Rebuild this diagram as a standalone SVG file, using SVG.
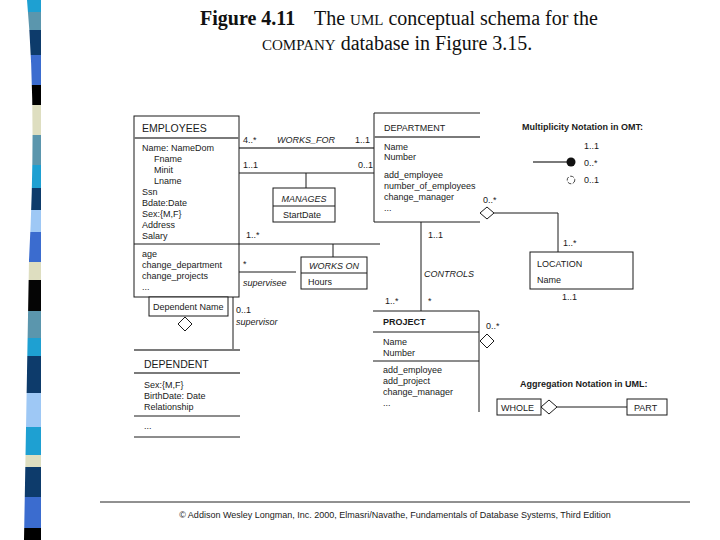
<svg xmlns="http://www.w3.org/2000/svg" width="720" height="540" viewBox="0 0 720 540">
<style>
.t{font-family:"Liberation Sans",Arial,sans-serif;font-size:9px;fill:#1a1a1a}
.h{font-size:10.5px}
.i{font-style:italic}
.b{font-weight:bold}
.ln{stroke:#1a1a1a;stroke-width:1;fill:none}
.gl{stroke:#7a7a7a;stroke-width:2;fill:none}
.bx{fill:#fff;stroke:#1a1a1a;stroke-width:1}
.dm{fill:#fff;stroke:#1a1a1a;stroke-width:1}
.ti{font-family:"Liberation Serif","Times New Roman",serif;font-size:20px;fill:#111}
</style>
<defs>
<clipPath id="band"><path d="M27,0 Q37,110 29,260 L24,540 L41,540 L41,0 Z"/></clipPath>
</defs>
<rect width="720" height="540" fill="#fff"/>
<g id="stripe" clip-path="url(#band)">
<rect x="0" y="0" width="45" height="12" fill="#1ea0d2"/>
<rect x="0" y="12" width="45" height="18" fill="#5b96ad"/>
<rect x="0" y="30" width="45" height="25" fill="#0d3b6b"/>
<rect x="0" y="55" width="45" height="30" fill="#3b6ccf"/>
<rect x="0" y="85" width="45" height="20" fill="#000"/>
<rect x="0" y="105" width="45" height="30" fill="#dedec0"/>
<rect x="0" y="135" width="45" height="30" fill="#5b96ad"/>
<rect x="0" y="165" width="45" height="23" fill="#1ea0d2"/>
<rect x="0" y="188" width="45" height="22" fill="#0d3b6b"/>
<rect x="0" y="210" width="45" height="22" fill="#9ec8f5"/>
<rect x="0" y="232" width="45" height="30" fill="#3b6ccf"/>
<rect x="0" y="262" width="45" height="18" fill="#dedec0"/>
<rect x="0" y="280" width="45" height="31" fill="#050505"/>
<rect x="0" y="311" width="45" height="27" fill="#5b96ad"/>
<rect x="0" y="338" width="45" height="18" fill="#1ea0d2"/>
<rect x="0" y="356" width="45" height="37" fill="#0d3b6b"/>
<rect x="0" y="393" width="45" height="34" fill="#9ec8f5"/>
<rect x="0" y="427" width="45" height="28" fill="#1ea0d2"/>
<rect x="0" y="455" width="45" height="12" fill="#dedec0"/>
<rect x="0" y="467" width="45" height="30" fill="#0d3b6b"/>
<rect x="0" y="497" width="45" height="31" fill="#3b6ccf"/>
<rect x="0" y="528" width="45" height="12" fill="#000"/>
</g>
<g id="title">
<text class="ti" x="200" y="25" font-weight="bold">Figure 4.11</text>
<text class="ti" x="314" y="25">The <tspan font-size="15">UML</tspan> conceptual schema for the</text>
<text class="ti" x="262" y="50"><tspan font-size="15">COMPANY</tspan> database in Figure 3.15.</text>
</g>
<g id="connectors">
<line class="gl" x1="239" y1="148" x2="374" y2="148"/>
<line class="ln" x1="239" y1="173" x2="374" y2="173"/>
<line class="ln" x1="306" y1="173" x2="306" y2="188"/>
<line class="ln" x1="239" y1="244" x2="380" y2="244"/>
<line class="ln" x1="333" y1="244" x2="333" y2="257"/>
<line class="ln" x1="239" y1="272" x2="296" y2="272"/>
<line class="ln" x1="233" y1="297" x2="233" y2="350"/>
<line class="ln" x1="421" y1="222" x2="421" y2="311"/>
<polyline class="ln" points="494,213 558,213 558,252"/>
<text class="t" x="243" y="143">4..*</text>
<text class="t i" x="277" y="143">WORKS_FOR</text>
<text class="t" x="355" y="143">1..1</text>
<text class="t" x="243" y="168">1..1</text>
<text class="t" x="358" y="168">0..1</text>
<text class="t" x="246" y="238">1..*</text>
<text class="t" x="243" y="267">*</text>
<text class="t i" x="243" y="286">supervisee</text>
<text class="t" x="236" y="313">0..1</text>
<text class="t i" x="236" y="325">supervisor</text>
<text class="t" x="428" y="238">1..1</text>
<text class="t i" x="424" y="277">CONTROLS</text>
<text class="t" x="428" y="304">*</text>
<text class="t" x="385" y="304">1..*</text>
<text class="t" x="483" y="203">0..*</text>
<text class="t" x="563" y="246">1..*</text>
<text class="t" x="562" y="300">1..1</text>
<text class="t" x="486" y="329">0..*</text>
</g>
<g id="employees">
<rect class="bx" x="134" y="116" width="105" height="181"/>
<line class="gl" x1="134" y1="138" x2="239" y2="138"/>
<line class="ln" x1="134" y1="244" x2="239" y2="244"/>
<text class="t h" x="142" y="132">EMPLOYEES</text>
<text class="t" x="142" y="151">Name: NameDom</text>
<text class="t" x="154" y="162">Fname</text>
<text class="t" x="154" y="173">Minit</text>
<text class="t" x="154" y="184">Lname</text>
<text class="t" x="142" y="195">Ssn</text>
<text class="t" x="142" y="206">Bdate:Date</text>
<text class="t" x="142" y="217">Sex:{M,F}</text>
<text class="t" x="142" y="228">Address</text>
<text class="t" x="142" y="239">Salary</text>
<text class="t" x="142" y="257">age</text>
<text class="t" x="142" y="268">change_department</text>
<text class="t" x="142" y="279">change_projects</text>
<text class="t" x="142" y="290">...</text>
</g>
<g id="dependent-name">
<rect class="bx" x="149" y="297" width="79" height="19"/>
<text class="t" x="153" y="310">Dependent Name</text>
<polygon class="dm" points="185,317 192,324 185,331 178,324"/>
</g>
<g id="dependent">
<line class="gl" x1="134" y1="350" x2="240" y2="350"/>
<line class="gl" x1="134" y1="373" x2="240" y2="373"/>
<line class="ln" x1="134" y1="416" x2="240" y2="416" stroke="#666"/>
<line class="ln" x1="134" y1="437" x2="240" y2="437" stroke="#666"/>
<text class="t h" x="144" y="368">DEPENDENT</text>
<text class="t" x="144" y="388">Sex:{M,F}</text>
<text class="t" x="144" y="399">BirthDate: Date</text>
<text class="t" x="144" y="410">Relationship</text>
<text class="t" x="144" y="429">...</text>
</g>
<g id="manages">
<rect class="bx" x="273" y="188" width="62" height="34"/>
<line class="ln" x1="273" y1="206" x2="335" y2="206"/>
<text class="t i" x="304" y="202" text-anchor="middle">MANAGES</text>
<text class="t" x="283" y="218">StartDate</text>
</g>
<g id="works-on">
<rect class="bx" x="301" y="257" width="66" height="32"/>
<line class="ln" x1="301" y1="273" x2="367" y2="273"/>
<text class="t i" x="309" y="269">WORKS ON</text>
<text class="t" x="308" y="285">Hours</text>
</g>
<g id="department">
<polyline class="ln" points="480,113 374,113 374,222 480,222"/>
<line class="gl" x1="374" y1="137" x2="480" y2="137"/>
<text class="t" x="384" y="131" font-size="10">DEPARTMENT</text>
<text class="t" x="384" y="150">Name</text>
<text class="t" x="384" y="160">Number</text>
<text class="t" x="384" y="178">add_employee</text>
<text class="t" x="384" y="189">number_of_employees</text>
<text class="t" x="384" y="200">change_manager</text>
<text class="t" x="384" y="211">...</text>
<polygon class="dm" points="480,213 487,207 494,213 487,219"/>
</g>
<g id="location">
<rect class="bx" x="530" y="252" width="103" height="37"/>
<text class="t" x="537" y="267" font-size="10">LOCATION</text>
<text class="t" x="537" y="283">Name</text>
</g>
<g id="project">
<polyline class="ln" points="373,311 479,311 479,412"/>
<line class="ln" x1="373" y1="332" x2="479" y2="332"/>
<line class="ln" x1="373" y1="361" x2="479" y2="361"/>
<text class="t b" x="383" y="325" font-size="10.5">PROJECT</text>
<text class="t" x="383" y="345">Name</text>
<text class="t" x="383" y="356">Number</text>
<text class="t" x="383" y="373">add_employee</text>
<text class="t" x="383" y="384">add_project</text>
<text class="t" x="383" y="395">change_manager</text>
<text class="t" x="383" y="406">...</text>
<polygon class="dm" points="480,341 487,334 494,341 487,348"/>
</g>
<g id="omt-legend">
<text class="t b" x="522" y="130" font-size="8.5">Multiplicity Notation in OMT:</text>
<text class="t" x="584" y="149">1..1</text>
<line class="gl" x1="533" y1="162" x2="567" y2="162" stroke-width="1.5"/>
<circle cx="571" cy="162" r="4.5" fill="#111"/>
<text class="t" x="584" y="166">0..*</text>
<circle cx="571" cy="180" r="3.8" fill="none" stroke="#333" stroke-width="0.9" stroke-dasharray="4 1.5"/>
<text class="t" x="584" y="183">0..1</text>
</g>
<g id="uml-legend">
<text class="t b" x="520" y="387" font-size="8.5">Aggregation Notation in UML:</text>
<rect class="bx" x="497" y="399" width="44" height="16"/>
<text class="t" x="501" y="411" font-size="10">WHOLE</text>
<polygon class="dm" points="541,407 549,400 557,407 549,414"/>
<line class="ln" x1="557" y1="407" x2="627" y2="407"/>
<rect class="bx" x="627" y="399" width="40" height="16"/>
<text class="t" x="634" y="411">PART</text>
</g>
<g id="footer">
<line x1="100" y1="502" x2="690" y2="502" stroke="#222" stroke-width="1"/>
<text class="t" x="395" y="518" font-size="8" text-anchor="middle">© Addison Wesley Longman, Inc. 2000, Elmasri/Navathe, Fundamentals of Database Systems, Third Edition</text>
</g>
</svg>
